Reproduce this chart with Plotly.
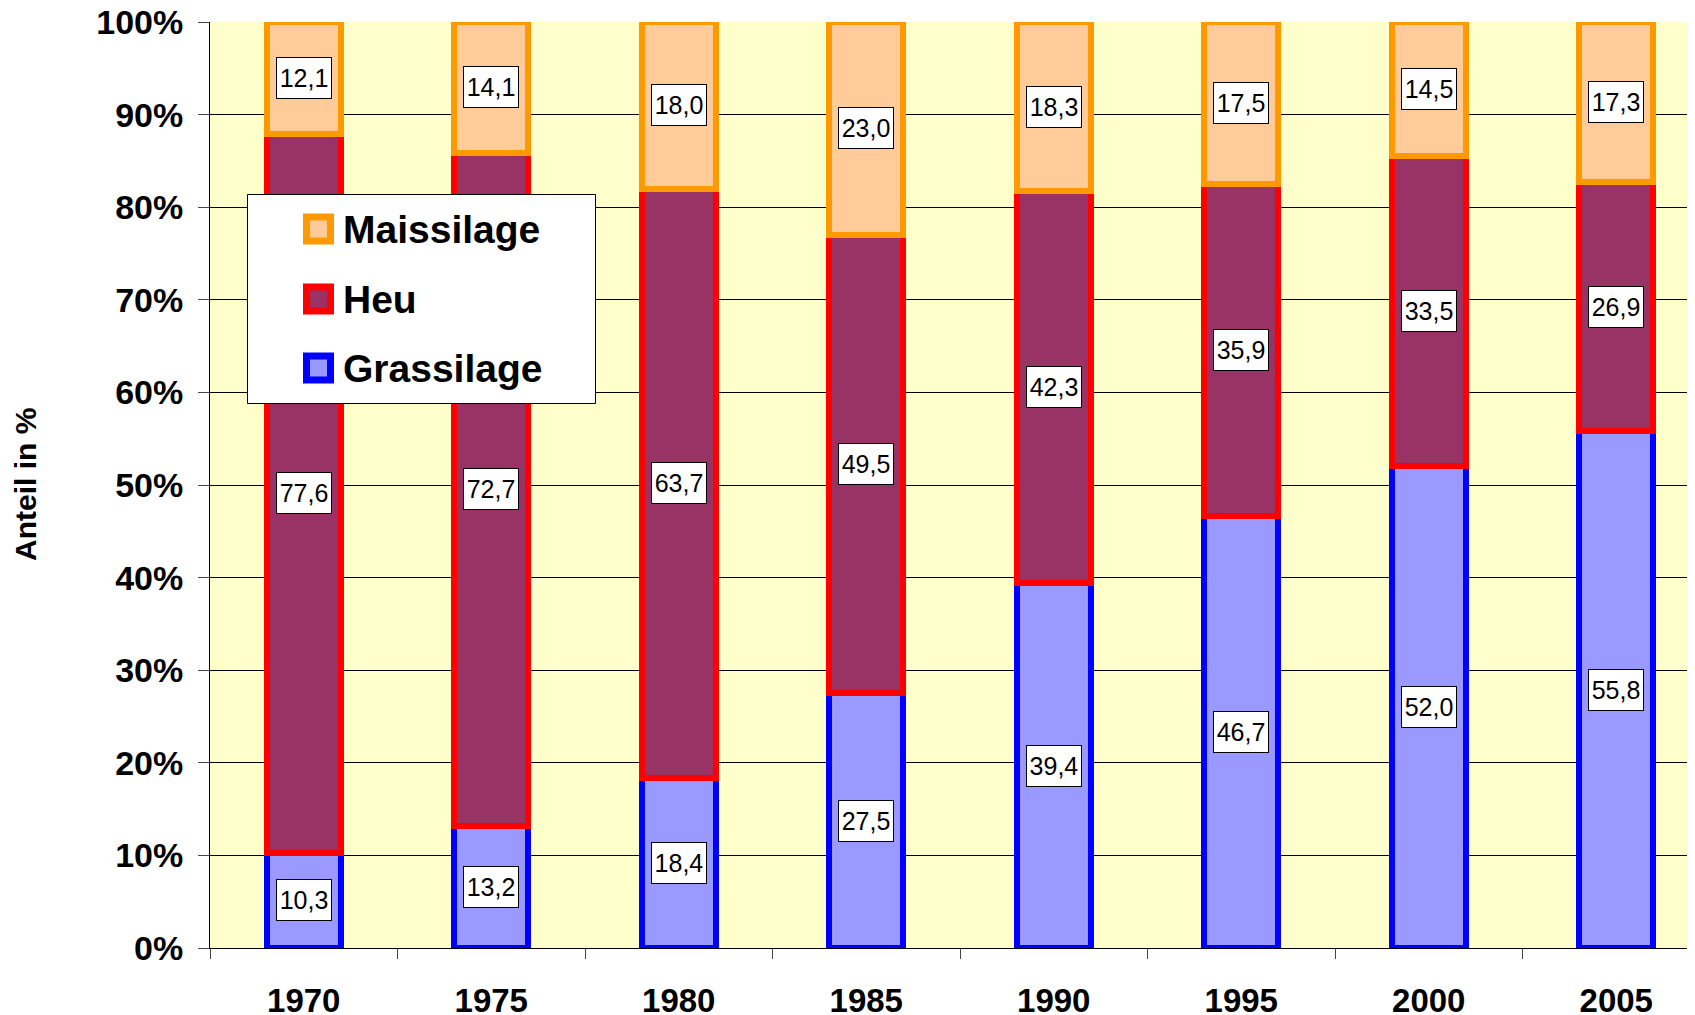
import plotly.graph_objects as go

years = ["1970", "1975", "1980", "1985", "1990", "1995", "2000", "2005"]
grassilage = [10.3, 13.2, 18.4, 27.5, 39.4, 46.7, 52.0, 55.8]
heu = [77.6, 72.7, 63.7, 49.5, 42.3, 35.9, 33.5, 26.9]
maissilage = [12.1, 14.1, 18.0, 23.0, 18.3, 17.5, 14.5, 17.3]

series = [
    ("Grassilage", grassilage, "#9999FF", "#0000FF"),
    ("Heu", heu, "#993366", "#FF0000"),
    ("Maissilage", maissilage, "#FFCC99", "#FF9900"),
]

# page body has an 8px margin; figure coordinates = screen - 8
OFF = 8
W, H = 1695, 1015
PLOT_L, PLOT_R, PLOT_T, PLOT_B = 210, 1695, 22, 948  # screen pixels
ML = PLOT_L - OFF
MT = PLOT_T - OFF
MR = W - (PLOT_R - OFF)
MB = H - (PLOT_B - OFF)
PW = PLOT_R - PLOT_L
PH = PLOT_B - PLOT_T
SPACING = 187.5


def px_x(px):
    return (px - PLOT_L) / PW


def px_y(py):
    return (PLOT_B - py) / PH


fig = go.Figure()
for name, vals, fill, line in series:
    fig.add_trace(go.Bar(
        x=years, y=vals, name=name, width=0.395,
        marker=dict(color=fill, line=dict(color=line, width=6)),
        showlegend=False, hoverinfo="x+y+name",
    ))

annotations = []
# data labels at the middle of each stacked segment
totals = [g + h + m for g, h, m in zip(grassilage, heu, maissilage)]
base = [0.0] * len(years)
for name, vals, fill, line in series:
    for i, v in enumerate(vals):
        share = v / totals[i] * 100
        mid = base[i] + share / 2
        base[i] += share
        annotations.append(dict(
            x=i, y=mid, xref="x", yref="y",
            text=f"{v:.1f}".replace(".", ","), showarrow=False,
            font=dict(family="Arial, Liberation Sans", size=25, color="black"),
            bgcolor="white", bordercolor="black", borderwidth=1, borderpad=0,
            width=54, height=40, align="center", valign="middle",
        ))

# y-axis title
annotations.append(dict(
    x=px_x(25), y=0.5, xref="paper", yref="paper", text="Anteil in %",
    textangle=-90, showarrow=False, xanchor="center", yanchor="middle",
    font=dict(family="Arial, Liberation Sans", size=30, color="black", weight="bold"),
))

shapes = []
# custom legend
shapes.append(dict(
    type="rect", xref="paper", yref="paper",
    x0=px_x(247.5), x1=px_x(595.5), y0=px_y(194.5), y1=px_y(403.5),
    fillcolor="white", line=dict(color="black", width=1), layer="above",
))
legend_items = [("Maissilage", "#FFCC99", "#FF9900", 229),
                ("Heu", "#993366", "#FF0000", 299),
                ("Grassilage", "#9999FF", "#0000FF", 368)]
for name, fill, line, cy in legend_items:
    shapes.append(dict(
        type="rect", xref="paper", yref="paper",
        x0=px_x(306.5), x1=px_x(330.5), y0=px_y(cy - 12), y1=px_y(cy + 12),
        fillcolor=fill, line=dict(color=line, width=7), layer="above",
    ))
    annotations.append(dict(
        x=px_x(341), y=px_y(cy), xref="paper", yref="paper", text=name,
        showarrow=False, xanchor="left", yanchor="middle",
        font=dict(family="Arial, Liberation Sans", size=39, color="black", weight="bold"),
    ))

fig.update_layout(
    width=W, height=H, autosize=False,
    margin=dict(l=ML, r=MR, t=MT, b=MB, pad=0),
    barmode="stack", barnorm="percent",
    paper_bgcolor="white", plot_bgcolor="#FFFFCC",
    showlegend=False,
    annotations=annotations, shapes=shapes,
    xaxis=dict(
        type="category", range=[-0.5, -0.5 + PW / SPACING], automargin=False,
        tickson="boundaries", ticks="outside", ticklen=10, tickcolor="#444444",
        showline=True, linecolor="black", linewidth=1, showgrid=False,
        tickfont=dict(family="Arial, Liberation Sans", size=33, color="black", weight="bold"),
        ticklabelstandoff=23, ticklabeloverflow="allow",
    ),
    yaxis=dict(
        range=[0, 100], dtick=10, ticksuffix="%", automargin=False,
        ticks="outside", ticklen=11, tickcolor="#444444",
        showline=True, linecolor="black", linewidth=1,
        showgrid=True, gridcolor="black", gridwidth=1,
        tickfont=dict(family="Arial, Liberation Sans", size=34, color="black", weight="bold"),
        ticklabelstandoff=8, zeroline=False, ticklabeloverflow="allow",
    ),
)

fig.write_html("out.html")
